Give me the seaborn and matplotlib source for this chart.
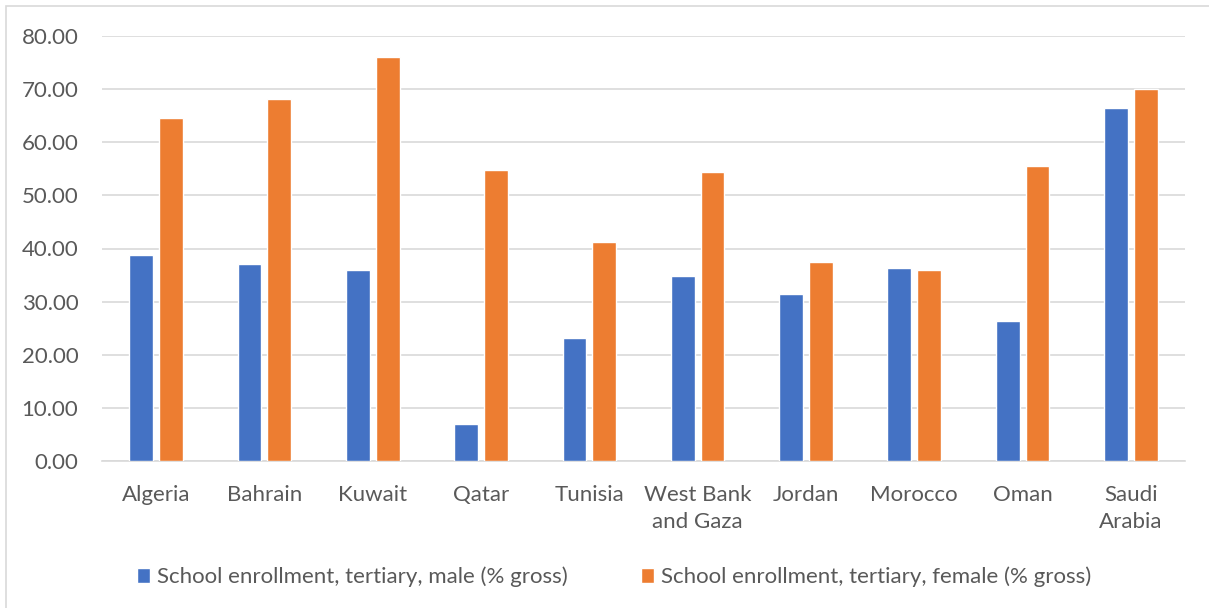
import matplotlib
matplotlib.use("Agg")
import matplotlib.pyplot as plt
from matplotlib.patches import Rectangle
import seaborn as sns
import pandas as pd

countries = ["Algeria", "Bahrain", "Kuwait", "Qatar", "Tunisia",
             "West Bank\nand Gaza", "Jordan", "Morocco", "Oman", "Saudi\nArabia"]
male = [38.8, 37.1, 36.0, 7.0, 23.2, 34.8, 31.4, 36.3, 26.4, 66.4]
female = [64.6, 68.1, 76.0, 54.8, 41.2, 54.4, 37.5, 36.0, 55.5, 70.0]
series_names = ["School enrollment, tertiary, male (% gross)",
                "School enrollment, tertiary, female (% gross)"]
yticks = [0, 10, 20, 30, 40, 50, 60, 70, 80]

df = pd.DataFrame({
    "country": countries * 2,
    "value": male + female,
    "series": [series_names[0]] * len(countries) + [series_names[1]] * len(countries),
})

sns.set_theme(style="white")
plt.rcParams["font.family"] = ["Lato", "DejaVu Sans"]

FS = 16

fig = plt.figure(figsize=(12.09, 6.08), dpi=100)
ax = fig.add_axes([102 / 1209, 1 - 461 / 608, (1185 - 102) / 1209, (461 - 36) / 608])

# chart frame
fig.patches.append(Rectangle((6 / 1209, -0.1), 1.2, 1 - 6 / 608 + 0.1,
                             transform=fig.transFigure, fill=False,
                             edgecolor="#d9d9d9", linewidth=1.2, zorder=0))

sns.barplot(data=df, x="country", y="value", hue="series", ax=ax,
            palette=["#4472C4", "#ED7D31"], width=0.55, gap=0.2,
            saturation=1, legend=True, zorder=3)

ax.set_ylim(0, 80)
ax.set_yticks(yticks)
ax.set_yticklabels([f"{v:.2f}" for v in yticks])
ax.yaxis.grid(True, color="#d9d9d9", linewidth=1.2, zorder=0)
ax.set_axisbelow(True)
for side in ["top", "right", "left"]:
    ax.spines[side].set_visible(False)
ax.spines["bottom"].set_color("#d9d9d9")
ax.spines["bottom"].set_linewidth(1.2)
ax.tick_params(axis="both", length=0, colors="#595959", labelsize=FS)
ax.tick_params(axis="x", pad=17)
ax.tick_params(axis="y", pad=17)
for lbl in ax.get_xticklabels():
    lbl.set_linespacing(1.45)
ax.set_xlabel("")
ax.set_ylabel("")
ax.set_xlim(-0.5, len(countries) - 0.5)

handles, labels = ax.get_legend_handles_labels()
ax.get_legend().remove()
leg = fig.legend(handles, labels, loc="center", ncol=2,
                 bbox_to_anchor=(614 / 1209, 1 - 577 / 608),
                 frameon=False, fontsize=FS, handlelength=0.6, handleheight=0.6,
                 handletextpad=0.3, columnspacing=3.3)
for t in leg.get_texts():
    t.set_color("#595959")

fig.savefig("out.png", dpi=100, facecolor="white")
